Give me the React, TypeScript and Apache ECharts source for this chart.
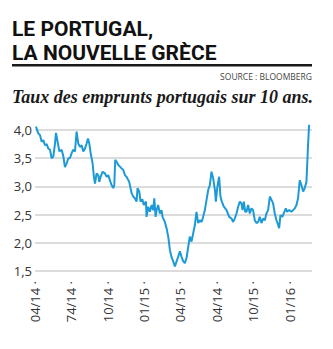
import React, { useEffect, useRef } from "react";
import * as echarts from "echarts";

const titleLines = ["LE PORTUGAL,", "LA NOUVELLE GRÈCE"];
const sourceText = "SOURCE : BLOOMBERG";
const subtitle = "Taux des emprunts portugais sur 10 ans.";

// x tick labels (every 3 months from April 2014), as printed
const xTickLabels = ["04/14", "74/14", "10/14", "01/15", "04/15", "04/14", "10/15", "01/16"];
const yTicks = [1.5, 2.0, 2.5, 3.0, 3.5, 4.0];

// months elapsed since start of April 2014
const months = [
  0.08, 0.27, 0.41, 0.55, 0.69, 0.82, 0.96, 1.1, 1.24, 1.37, 1.51, 1.65, 1.73, 1.84, 2.01, 2.2, 2.34, 2.47, 2.61, 2.75,
  2.88, 3.02, 3.16, 3.3, 3.43, 3.57, 3.71, 3.85, 3.98, 4.12, 4.26, 4.37, 4.48, 4.59, 4.75, 4.86, 4.95, 5.08, 5.22, 5.3,
  5.41, 5.58, 5.77, 5.91, 6.04, 6.18, 6.32, 6.46, 6.54, 6.62, 6.73, 6.87, 7.01, 7.14, 7.28, 7.42, 7.55, 7.77, 7.97, 8.1,
  8.24, 8.38, 8.46, 8.6, 8.71, 8.85, 8.98, 9.15, 9.2, 9.34, 9.48, 9.62, 9.75, 9.84, 9.95, 10.03, 10.16, 10.3, 10.44, 10.52,
  10.71, 10.85, 10.99, 11.13, 11.26, 11.4, 11.54, 11.68, 11.81, 11.95, 12.09, 12.23, 12.36, 12.5, 12.64, 12.77, 12.91, 13.05, 13.19, 13.32,
  13.46, 13.6, 13.74, 13.87, 14.01, 14.15, 14.29, 14.42, 14.56, 14.7, 14.84, 14.92, 15.03, 15.11, 15.19, 15.3, 15.41, 15.58, 15.8, 16.02,
  16.21, 16.35, 16.48, 16.62, 16.76, 16.9, 17.03, 17.12, 17.23, 17.34, 17.45, 17.58, 17.72, 17.86, 17.99, 18.13, 18.27, 18.41, 18.54, 18.68,
  18.82, 18.96, 19.09, 19.23, 19.37, 19.51, 19.64, 19.78, 19.92, 20.05, 20.14, 20.25, 20.41, 20.52, 20.69, 20.8, 20.96, 21.15, 21.29, 21.43,
  21.57, 21.7, 21.84, 21.98, 22.12, 22.25, 22.39, 22.53, 22.61,
];

// Portuguese 10-year yields (%)
const yields = [
  4.06, 3.94, 3.91, 3.79, 3.82, 3.73, 3.75, 3.67, 3.65, 3.5, 3.53, 3.76, 3.95, 3.82, 3.62, 3.65, 3.53, 3.34, 3.41, 3.5,
  3.5, 3.59, 3.65, 3.62, 3.97, 3.76, 3.7, 3.73, 3.62, 3.67, 3.76, 3.85, 3.76, 3.59, 3.41, 3.17, 3.05, 3.23, 3.2, 3.08,
  3.17, 3.26, 3.23, 3.17, 3.2, 3.11, 3.02, 2.97, 3.02, 3.47, 3.44, 3.38, 3.35, 3.32, 3.29, 3.2, 3.17, 3.08, 2.88, 2.82,
  2.79, 2.73, 2.97, 2.91, 2.73, 2.77, 2.67, 2.73, 2.46, 2.64, 2.55, 2.67, 2.58, 2.79, 2.46, 2.58, 2.67, 2.52, 2.58, 2.46,
  2.37, 2.26, 2.11, 1.87, 1.75, 1.67, 1.58, 1.67, 1.75, 1.85, 1.75, 1.67, 1.64, 1.73, 1.93, 2.11, 2.02, 2.17, 2.32, 2.55,
  2.35, 2.4, 2.37, 2.46, 2.58, 2.76, 2.94, 3.02, 3.26, 3.14, 2.94, 2.73, 2.97, 3.08, 3.17, 2.82, 2.73, 2.64, 2.58, 2.46,
  2.43, 2.37, 2.43, 2.52, 2.64, 2.73, 2.7, 2.58, 2.73, 2.55, 2.55, 2.67, 2.52, 2.61, 2.58, 2.4, 2.35, 2.37, 2.46, 2.35,
  2.43, 2.4, 2.52, 2.58, 2.82, 2.76, 2.7, 2.52, 2.4, 2.32, 2.26, 2.49, 2.46, 2.52, 2.61, 2.55, 2.58, 2.55, 2.58, 2.61,
  2.67, 2.79, 3.11, 3.02, 2.91, 2.97, 3.08, 3.76, 4.09,
];

export default function App() {
  const ref = useRef<HTMLDivElement>(null);
  useEffect(() => {
    document.body.style.margin = "0";
    const chart = echarts.init(ref.current!, null, { renderer: "svg" });
    const data = months.map((m, i) => [m, yields[i]]);
    chart.setOption({
      animation: false,
      backgroundColor: "#ffffff",
      graphic: [
        {
          type: "text",
          left: 12,
          top: 17,
          style: {
            text: titleLines.join("\n"),
            font: "bold 21px Roboto",
            lineHeight: 24,
            fill: "#111111",
          },
        },
        {
          type: "rect",
          shape: { x: 12, y: 64, width: 300, height: 2.5 },
          style: { fill: "#1a1a1a" },
        },
        {
          type: "text",
          right: 21,
          top: 72,
          style: { text: sourceText, font: "8.5px 'Open Sans'", fill: "#444444" },
        },
        {
          type: "text",
          left: 12,
          top: 88,
          style: {
            text: subtitle,
            font: "italic bold 18px 'Liberation Serif'",
            fill: "#1a1a1a",
          },
        },
      ],
      grid: { left: 35, right: 21, top: 130, bottom: 78, containLabel: false },
      xAxis: {
        type: "value",
        min: 0,
        max: 22.85,
        interval: 3,
        axisLine: { show: false },
        axisTick: { show: false },
        splitLine: { show: false },
        axisLabel: {
          rotate: 90,
          margin: 10,
          fontFamily: "Open Sans",
          fontSize: 13,
          color: "#333333",
          formatter: (v: number) => {
            const i = Math.round(v / 3);
            if (Math.abs(v - i * 3) > 0.01 || !xTickLabels[i]) return "";
            return xTickLabels[i] + " ·";
          },
        },
      },
      yAxis: {
        type: "value",
        min: 1.5,
        max: 4.0,
        interval: 0.5,
        axisLine: { show: false },
        axisTick: { show: false },
        splitLine: { lineStyle: { color: "#d0d0d0", width: 1.5 } },
        axisLabel: {
          margin: 3,
          fontFamily: "Open Sans",
          fontSize: 13,
          color: "#333333",
          formatter: (v: number) => {
            const t = yTicks.find((y) => Math.abs(y - v) < 1e-6);
            return t === undefined ? "" : t.toFixed(1).replace(".", ",");
          },
        },
      },
      series: [
        {
          type: "line",
          data,
          showSymbol: false,
          clip: false,
          lineStyle: { color: "#1d9ad6", width: 2 },
        },
      ],
    });
    return () => chart.dispose();
  }, []);
  return <div ref={ref} style={{ position: "fixed", left: 0, top: 0, width: 333, height: 349 }} />;
}
